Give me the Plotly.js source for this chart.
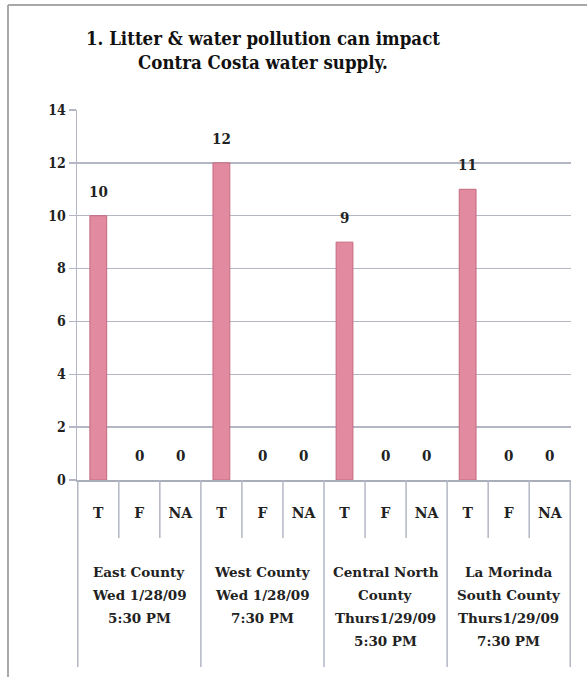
<!DOCTYPE html>
<html>
<head>
<meta charset="utf-8">
<script src="https://cdn.plot.ly/plotly-3.0.1.min.js"></script>
<style>html,body{margin:0;padding:0;background:#fff;}#chart{width:587px;height:677px;}</style>
</head>
<body>
<div id="chart"></div>
<script>
const groups = [
  ["East County", "Wed 1/28/09", "5:30 PM"],
  ["West County", "Wed 1/28/09", "7:30 PM"],
  ["Central North", "County", "Thurs1/29/09", "5:30 PM"],
  ["La Morinda", "South County", "Thurs1/29/09", "7:30 PM"]
];
const answers = ["T", "F", "NA"];
const counts = [
  [10, 0, 0],
  [12, 0, 0],
  [9, 0, 0],
  [11, 0, 0]
];
const titleLines = ["1. Litter & water pollution can impact", "Contra Costa water supply."];

const FONT = "DejaVu Serif Condensed, DejaVu Serif, serif";
const FONT2 = "DejaVu Serif, serif";
const ids = [], vals = [], tickText = [];
groups.forEach((g, gi) => {
  answers.forEach((a, ai) => {
    ids.push(g[0] + "|" + a);
    vals.push(counts[gi][ai]);
    tickText.push("<b>" + a + "</b>");
  });
});

const lineCol = "#b3b7c4";
const shapes = [];
const n = ids.length;
for (let i = 0; i <= n; i++) {
  const isGroup = (i % answers.length === 0);
  shapes.push({type: "line", xref: "x", yref: "paper",
    x0: i - 0.5, x1: i - 0.5, y0: 0, y1: isGroup ? -0.5054 : -0.1568,
    line: {color: lineCol, width: 1.5}});
}
// outer frame
shapes.push({type: "line", xref: "paper", yref: "paper", x0: -0.1397, x1: -0.1397, y0: 1.2838, y1: -0.54, line: {color: "#a8a8a8", width: 2}});
shapes.push({type: "line", xref: "paper", yref: "paper", x0: -0.1397, x1: 1.04, y0: 1.2838, y1: 1.2838, line: {color: "#a8a8a8", width: 2}});

const annotations = [];
annotations.push({x: (263 - 77) / 494, xref: "paper", y: 1.162, yref: "paper", xanchor: "center", yanchor: "middle",
  text: titleLines.join("<br>"), showarrow: false,
  font: {family: FONT, size: 18.5, color: "#111", weight: "bold"}});
ids.forEach((id, i) => {
  annotations.push({x: id, y: vals[i], xref: "x", yref: "y", text: String(vals[i]),
    showarrow: false, yanchor: "bottom", yshift: 13,
    font: {family: FONT, size: 15, color: "#222", weight: "bold"}});
});
groups.forEach((g, gi) => {
  const center = gi * answers.length + 1;
  g.forEach((line, li) => {
    annotations.push({x: center, y: (480 - 572 - li * 23) / 370, xref: "x", yref: "paper",
      text: line, showarrow: false, yanchor: "middle",
      font: {family: FONT2, size: 13.5, color: "#222", weight: "bold"}});
  });
});

const trace = {
  type: "bar", x: ids, y: vals, width: 0.41,
  marker: {color: "#e28ba0", line: {color: "#c46a80", width: vals.map(v => v > 0 ? 1 : 0)}},
  hoverinfo: "x+y"
};

const layout = {
  width: 587, height: 677,
  margin: {l: 77, r: 16, t: 110, b: 197},
  paper_bgcolor: "#fff", plot_bgcolor: "#fff",
  showlegend: false,
  xaxis: {type: "category", tickvals: ids, ticktext: tickText, ticks: "",
    showline: true, linecolor: "#a9adba", linewidth: 1.5, showgrid: false,
    ticklabelstandoff: 20,
    tickfont: {family: FONT2, size: 14, color: "#222", weight: "bold"}},
  yaxis: {range: [0, 14], dtick: 2, showgrid: true, gridcolor: lineCol, gridwidth: 1.5,
    ticks: "outside", ticklen: 7, tickcolor: lineCol, tickwidth: 1.5,
    showline: true, linecolor: lineCol, linewidth: 1.5, zeroline: false,
    tickfont: {family: FONT, size: 14, color: "#222", weight: "bold"}},
  shapes: shapes, annotations: annotations
};
Plotly.newPlot("chart", [trace], layout, {displayModeBar: false, staticPlot: true});
</script>
</body>
</html>
